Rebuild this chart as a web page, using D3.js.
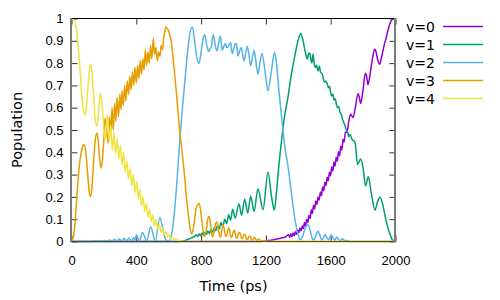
<!DOCTYPE html>
<html>
<head>
<meta charset="utf-8">
<script src="https://cdn.jsdelivr.net/npm/d3@7"></script>
<style>
  body { margin: 0; background: #fff; }
  svg { display: block; font-family: 'DejaVu Sans', sans-serif; }
  .tick text { font-size: 13px; fill: #000; }
</style>
</head>
<body>
<div id="chart"></div>
<script>
// population of each vibrational level, [time (ps), population]
const popV0 = [
  [0, 0], [1150, 0], [1200, 0.003], [1250, 0.008], [1290, 0.015], [1320, 0.02],
  [1340, 0.03], [1347, 0.018], [1354, 0.034], [1361, 0.022], [1368, 0.038], [1375, 0.026],
  [1382, 0.044], [1389, 0.032], [1396, 0.052], [1403, 0.04], [1410, 0.06], [1417, 0.048],
  [1424, 0.07], [1431, 0.058], [1438, 0.085], [1445, 0.07], [1452, 0.1], [1459, 0.085],
  [1466, 0.118], [1473, 0.104], [1480, 0.142], [1487, 0.126], [1494, 0.162], [1501, 0.146],
  [1508, 0.182], [1515, 0.166], [1522, 0.2], [1529, 0.186], [1536, 0.222], [1543, 0.206],
  [1550, 0.244], [1557, 0.228], [1564, 0.266], [1571, 0.25], [1578, 0.288], [1585, 0.272],
  [1592, 0.31], [1599, 0.294], [1606, 0.334], [1613, 0.316], [1620, 0.356], [1627, 0.338],
  [1634, 0.378], [1641, 0.36], [1648, 0.402], [1655, 0.384], [1662, 0.428], [1669, 0.41],
  [1676, 0.458], [1683, 0.446], [1690, 0.49], [1700, 0.49], [1712, 0.54], [1723, 0.571],
  [1738, 0.556], [1752, 0.6], [1769, 0.664], [1777, 0.645], [1785, 0.619], [1798, 0.67],
  [1814, 0.754], [1822, 0.74], [1830, 0.703], [1845, 0.76], [1860, 0.83], [1871, 0.862],
  [1880, 0.85], [1890, 0.815], [1902, 0.795], [1915, 0.83], [1930, 0.88], [1943, 0.915],
  [1958, 0.96], [1974, 0.99], [1990, 1.0], [2000, 1.0],
]

const popV1 = [
  [0, 0], [650, 0], [680, 0.002], [699, 0.004], [720, 0.01], [740, 0.016], [760, 0.023],
  [770, 0.03], [779, 0.022], [788, 0.034], [797, 0.026], [806, 0.038], [815, 0.028],
  [824, 0.042], [833, 0.032], [842, 0.047], [851, 0.036], [861, 0.054], [871, 0.042],
  [881, 0.062], [891, 0.048], [901, 0.072], [912, 0.056], [923, 0.085], [934, 0.066],
  [946, 0.1], [958, 0.08], [970, 0.12], [982, 0.095], [995, 0.145], [1010, 0.105],
  [1034, 0.168], [1050, 0.118], [1069, 0.19], [1088, 0.128], [1106, 0.203], [1127, 0.135],
  [1151, 0.237], [1182, 0.143], [1213, 0.311], [1235, 0.2], [1252, 0.141], [1265, 0.22],
  [1280, 0.34], [1297, 0.455], [1315, 0.56], [1336, 0.646], [1355, 0.74], [1375, 0.82],
  [1395, 0.89], [1415, 0.933], [1422, 0.92], [1430, 0.9], [1440, 0.86], [1450, 0.83],
  [1456, 0.818], [1463, 0.84], [1470, 0.845], [1477, 0.82], [1484, 0.8], [1491, 0.84],
  [1498, 0.8], [1505, 0.78], [1512, 0.79], [1522, 0.765], [1530, 0.787], [1537, 0.76],
  [1548, 0.75], [1555, 0.73], [1562, 0.715], [1570, 0.72], [1579, 0.706], [1586, 0.69],
  [1593, 0.695], [1600, 0.665], [1607, 0.653], [1614, 0.66], [1621, 0.635], [1628, 0.64],
  [1635, 0.616], [1642, 0.6], [1650, 0.605], [1657, 0.58], [1665, 0.571], [1672, 0.55],
  [1680, 0.535], [1688, 0.52], [1696, 0.5], [1705, 0.49], [1712, 0.47], [1720, 0.48],
  [1730, 0.46], [1750, 0.445], [1766, 0.345], [1785, 0.37], [1800, 0.33], [1815, 0.25],
  [1832, 0.29], [1850, 0.22], [1873, 0.141], [1890, 0.18], [1904, 0.2], [1920, 0.17],
  [1940, 0.1], [1960, 0.045], [1982, 0.007], [1995, 0], [2000, 0],
]

const popV2 = [
  [0, 0], [100, 0], [130, 0.001], [145, 0.003], [160, 0.001], [175, 0.004], [190, 0.001],
  [205, 0.005], [220, 0.002], [235, 0.007], [250, 0.002], [265, 0.009], [280, 0.003],
  [295, 0.011], [310, 0.003], [325, 0.013], [340, 0.004], [355, 0.015], [370, 0.004],
  [385, 0.018], [392, 0.004], [400, 0.03], [420, 0.003], [438, 0.04], [465, 0.002],
  [489, 0.066], [517, 0.002], [545, 0.108], [560, 0.07], [575, 0.02], [590, 0.003],
  [605, 0.005], [620, 0.04], [635, 0.13], [650, 0.26], [668, 0.45], [685, 0.6], [700, 0.72],
  [715, 0.84], [730, 0.93], [746, 0.962], [760, 0.9], [775, 0.82], [787, 0.798], [800, 0.85],
  [812, 0.91], [822, 0.927], [835, 0.88], [847, 0.852], [855, 0.865], [862, 0.87],
  [870, 0.91], [876, 0.927], [887, 0.88], [898, 0.855], [908, 0.89], [919, 0.922],
  [926, 0.88], [931, 0.857], [940, 0.875], [950, 0.888], [958, 0.87], [966, 0.872],
  [975, 0.885], [983, 0.892], [988, 0.86], [993, 0.843], [1000, 0.86], [1010, 0.885],
  [1018, 0.888], [1023, 0.86], [1028, 0.832], [1038, 0.855], [1048, 0.87], [1056, 0.84],
  [1065, 0.81], [1075, 0.845], [1085, 0.874], [1095, 0.84], [1106, 0.788], [1116, 0.82],
  [1127, 0.858], [1138, 0.81], [1151, 0.75], [1163, 0.8], [1176, 0.843], [1195, 0.76],
  [1213, 0.676], [1233, 0.76], [1254, 0.848], [1265, 0.8], [1280, 0.68], [1295, 0.571],
  [1308, 0.48], [1320, 0.41], [1336, 0.34], [1355, 0.23], [1375, 0.12], [1395, 0.04],
  [1412, 0.008], [1425, 0.02], [1440, 0.055], [1460, 0.075], [1475, 0.045], [1490, 0.008],
  [1500, 0.01], [1510, 0.03], [1522, 0.047], [1535, 0.025], [1545, 0.006], [1555, 0.015],
  [1565, 0.031], [1578, 0.015], [1588, 0.008], [1595, 0.02], [1603, 0.03], [1615, 0.015],
  [1625, 0.005], [1637, 0.02], [1648, 0.01], [1660, 0.004], [1672, 0.012], [1685, 0.004],
  [1700, 0.004], [1720, 0], [2000, 0],
]

const popV3 = [
  [0, 0], [10, 0.015], [20, 0.07], [30, 0.17], [40, 0.27], [50, 0.35], [60, 0.4], [70, 0.43],
  [80, 0.434], [90, 0.39], [100, 0.3], [110, 0.22], [118, 0.2], [126, 0.24], [136, 0.35],
  [146, 0.45], [157, 0.486], [165, 0.45], [175, 0.36], [184, 0.33], [192, 0.38], [200, 0.46],
  [207, 0.553], [217, 0.5], [226, 0.44], [234, 0.56], [242, 0.48], [250, 0.6], [258, 0.5],
  [266, 0.62], [274, 0.54], [281, 0.646], [290, 0.56], [298, 0.66], [306, 0.59], [312, 0.676],
  [320, 0.61], [328, 0.7], [336, 0.63], [344, 0.72], [352, 0.66], [360, 0.74], [368, 0.68],
  [376, 0.76], [384, 0.7], [392, 0.78], [400, 0.71], [408, 0.79], [416, 0.73], [424, 0.81],
  [432, 0.75], [440, 0.82], [448, 0.77], [456, 0.86], [464, 0.79], [472, 0.85], [480, 0.8],
  [488, 0.88], [496, 0.82], [505, 0.91], [513, 0.84], [521, 0.87], [530, 0.81], [538, 0.85],
  [546, 0.83], [554, 0.88], [562, 0.86], [570, 0.92], [576, 0.94], [582, 0.962], [590, 0.955],
  [600, 0.945], [608, 0.92], [616, 0.895], [626, 0.83], [637, 0.75], [647, 0.67], [657, 0.586],
  [668, 0.496], [678, 0.434], [689, 0.36], [699, 0.285], [709, 0.2], [719, 0.135], [730, 0.07],
  [740, 0.035], [750, 0.05], [760, 0.1], [770, 0.15], [787, 0.17], [795, 0.15], [805, 0.09],
  [815, 0.04], [822, 0.023], [832, 0.05], [841, 0.1], [849, 0.113], [858, 0.08], [866, 0.035],
  [872, 0.02], [882, 0.05], [890, 0.08], [898, 0.087], [906, 0.06], [914, 0.025], [920, 0.02],
  [928, 0.05], [935, 0.075], [942, 0.06], [950, 0.025], [956, 0.022], [963, 0.045], [970, 0.062],
  [977, 0.045], [984, 0.02], [990, 0.02], [997, 0.04], [1004, 0.052], [1011, 0.035],
  [1018, 0.015], [1025, 0.02], [1032, 0.04], [1038, 0.042], [1045, 0.025], [1052, 0.012],
  [1058, 0.018], [1065, 0.032], [1071, 0.033], [1078, 0.015], [1085, 0.008], [1091, 0.015],
  [1098, 0.025], [1104, 0.022], [1111, 0.008], [1118, 0.006], [1124, 0.015], [1130, 0.018],
  [1137, 0.01], [1144, 0.003], [1150, 0.008], [1157, 0.012], [1164, 0.006], [1172, 0.002],
  [1180, 0.005], [1188, 0.004], [1200, 0.001], [1250, 0], [2000, 0],
]

const popV4 = [
  [0, 1.0], [10, 0.995], [22, 0.985], [35, 0.92], [52, 0.78], [65, 0.64], [75, 0.585],
  [83, 0.567], [92, 0.6], [102, 0.7], [112, 0.78], [118, 0.795], [125, 0.77], [135, 0.67],
  [145, 0.56], [155, 0.516], [163, 0.55], [172, 0.63], [180, 0.664], [188, 0.62], [197, 0.53],
  [207, 0.455], [221, 0.567], [232, 0.45], [242, 0.52], [252, 0.41], [262, 0.49], [272, 0.395],
  [282, 0.46], [292, 0.37], [302, 0.43], [312, 0.345], [322, 0.4], [332, 0.31], [342, 0.36],
  [352, 0.28], [362, 0.33], [372, 0.25], [382, 0.3], [392, 0.22], [402, 0.27], [412, 0.19],
  [422, 0.235], [432, 0.16], [442, 0.2], [452, 0.135], [462, 0.17], [472, 0.11], [482, 0.145],
  [492, 0.09], [502, 0.12], [512, 0.07], [522, 0.1], [532, 0.055], [542, 0.08], [552, 0.04],
  [562, 0.06], [572, 0.03], [582, 0.045], [592, 0.02], [602, 0.032], [612, 0.012], [622, 0.02],
  [632, 0.007], [642, 0.012], [652, 0.004], [662, 0.007], [675, 0.002], [700, 0], [2000, 0],
]

const seriesNames = ['v=0', 'v=1', 'v=2', 'v=3', 'v=4']
const seriesColors = ['#9400d3', '#009e73', '#56b4e9', '#e69f00', '#f0e442']
const xTicks = [0, 400, 800, 1200, 1600, 2000]
const yTicks = [0, 0.1, 0.2, 0.3, 0.4, 0.5, 0.6, 0.7, 0.8, 0.9, 1]

const allSeries = [popV0, popV1, popV2, popV3, popV4]

const width = 500
const height = 300
const plot = { left: 71.5, right: 395.5, top: 18.5, bottom: 241.5 }

const svg = d3.select('#chart').append('svg').attr('width', width).attr('height', height)

const x = d3.scaleLinear().domain([0, 2000]).range([plot.left, plot.right])
const y = d3.scaleLinear().domain([0, 1]).range([plot.bottom, plot.top])

// mirrored inward ticks on all four sides, like gnuplot
const yFmt = (d) => (d === 0 || d === 1 ? String(d) : d3.format('.1f')(d))

svg.append('g')
  .attr('transform', `translate(${plot.left},0)`)
  .call(d3.axisLeft(y).tickValues(yTicks).tickSize(-6).tickPadding(8).tickFormat(yFmt))
  .call((g) => g.select('.domain').remove())

svg.append('g')
  .attr('transform', `translate(${plot.right},0)`)
  .call(d3.axisRight(y).tickValues(yTicks).tickSize(-6).tickFormat(''))
  .call((g) => g.select('.domain').remove())

svg.append('g')
  .attr('transform', `translate(0,${plot.bottom})`)
  .call(d3.axisBottom(x).tickValues(xTicks).tickSize(-6).tickPadding(14).tickFormat(d3.format('d')))
  .call((g) => g.select('.domain').remove())

svg.append('g')
  .attr('transform', `translate(0,${plot.top})`)
  .call(d3.axisTop(x).tickValues(xTicks).tickSize(-6).tickFormat(''))
  .call((g) => g.select('.domain').remove())

svg.selectAll('.tick line').attr('stroke', '#333')

const line = d3.line()
  .curve(d3.curveMonotoneX)
  .x((d) => x(d[0]))
  .y((d) => y(d[1]))

svg.append('g')
  .selectAll('path')
  .data(allSeries)
  .join('path')
  .attr('fill', 'none')
  .attr('stroke', (d, i) => seriesColors[i])
  .attr('stroke-width', 1.5)
  .attr('stroke-linejoin', 'round')
  .attr('d', line)

// border on top of the curves: crisp black top/bottom, soft grey sides
const border = svg.append('g')
border.append('line')
  .attr('x1', plot.left).attr('x2', plot.right)
  .attr('y1', plot.top).attr('y2', plot.top)
  .attr('stroke', '#000')
border.append('line')
  .attr('x1', plot.left).attr('x2', plot.right)
  .attr('y1', plot.bottom).attr('y2', plot.bottom)
  .attr('stroke', '#4a4a2a')
border.selectAll('line.side')
  .data([plot.left - 0.5, plot.right - 0.5])
  .join('line')
  .attr('class', 'side')
  .attr('x1', (d) => d).attr('x2', (d) => d)
  .attr('y1', plot.top - 0.5).attr('y2', plot.bottom + 0.5)
  .attr('stroke', '#7a7a7a')
  .attr('stroke-width', 2)

// legend
const legend = svg.append('g')
legend.selectAll('text')
  .data(seriesNames)
  .join('text')
  .attr('x', 435)
  .attr('y', (d, i) => 31.5 + i * 18)
  .attr('text-anchor', 'end')
  .style('font-size', '14px')
  .text((d) => d)
legend.selectAll('line')
  .data(seriesNames)
  .join('line')
  .attr('x1', 443).attr('x2', 483)
  .attr('y1', (d, i) => 26.5 + i * 18)
  .attr('y2', (d, i) => 26.5 + i * 18)
  .attr('stroke', (d, i) => seriesColors[i])
  .attr('stroke-width', 1.5)

// axis titles
svg.append('text')
  .attr('x', (plot.left + plot.right) / 2)
  .attr('y', 291)
  .attr('text-anchor', 'middle')
  .style('font-size', '14.5px')
  .text('Time (ps)')

svg.append('text')
  .attr('transform', `translate(22,${(plot.top + plot.bottom) / 2}) rotate(-90)`)
  .attr('text-anchor', 'middle')
  .style('font-size', '14.5px')
  .text('Population')
</script>
</body>
</html>
